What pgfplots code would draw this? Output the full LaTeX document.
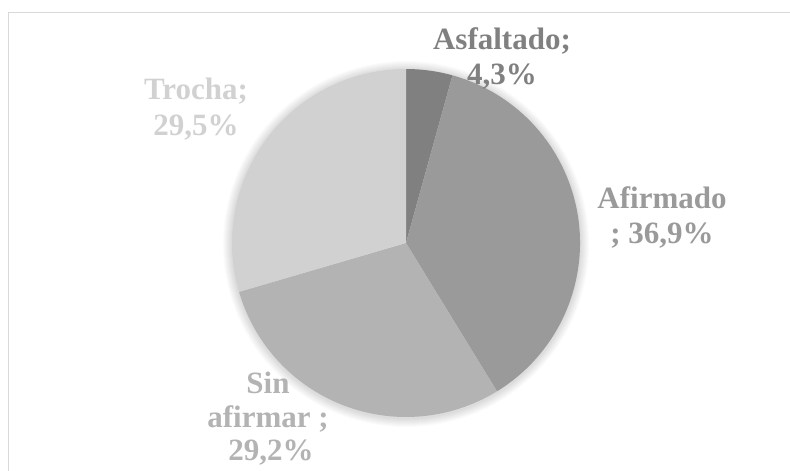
\documentclass[border=0pt]{standalone}
\usepackage{fontspec}
\setmainfont{Liberation Serif}
\usepackage{pgfplots}
\usepackage{pgfplotstable}
\pgfplotsset{compat=1.18}
\definecolor{cA}{HTML}{808080}
\definecolor{cB}{HTML}{9A9A9A}
\definecolor{cC}{HTML}{B3B3B3}
\definecolor{cD}{HTML}{D1D1D1}
\definecolor{frame}{HTML}{D9D9D9}

\pgfplotstableread[col sep=comma]{
label,value
Asfaltado,4.3
Afirmado,36.9
Sin afirmar,29.2
Trocha,29.5
}\piedata

\newcommand\labfont{\fontsize{31}{35}\selectfont\bfseries}

\begin{document}
\begin{tikzpicture}
\pgfplotstablegetelem{0}{value}\of\piedata \let\vA\pgfplotsretval
\pgfplotstablegetelem{1}{value}\of\piedata \let\vB\pgfplotsretval
\pgfplotstablegetelem{2}{value}\of\piedata \let\vC\pgfplotsretval
\pgfplotstablegetelem{3}{value}\of\piedata \let\vD\pgfplotsretval
\pgfmathsetmacro\tot{\vA+\vB+\vC+\vD}
\pgfmathsetmacro\aA{90}
\pgfmathsetmacro\aB{\aA-360*\vA/\tot}
\pgfmathsetmacro\aC{\aB-360*\vB/\tot}
\pgfmathsetmacro\aD{\aC-360*\vC/\tot}
\pgfmathsetmacro\aE{\aD-360*\vD/\tot}
\useasboundingbox (0,0) rectangle (790pt,471pt);
\clip (0,0) rectangle (790pt,471pt);
\begin{axis}[at={(0,0)}, anchor=south west, x=1pt, y=1pt,
  xmin=0, xmax=790, ymin=0, ymax=471, y dir=reverse,
  hide axis, clip=false]
% chart frame
\draw[frame, line width=1.5pt] (axis cs:8.5,520) -- (axis cs:8.5,12.5) -- (axis cs:830,12.5);
% soft shadow
\pgfplotsinvokeforeach{1,...,9}{
  \fill[black, opacity=0.016] (axis cs:406,244) circle[radius={(174+#1)*1pt}];
}
% slices
\fill[cA] (axis cs:406,243) -- ++(\aA:174pt) arc[start angle=\aA, end angle=\aB, radius=174pt] -- cycle;
\fill[cB] (axis cs:406,243) -- ++(\aB:174pt) arc[start angle=\aB, end angle=\aC, radius=174pt] -- cycle;
\fill[cC] (axis cs:406,243) -- ++(\aC:174pt) arc[start angle=\aC, end angle=\aD, radius=174pt] -- cycle;
\fill[cD] (axis cs:406,243) -- ++(\aD:174pt) arc[start angle=\aD, end angle=\aE, radius=174pt] -- cycle;
% labels
\node[anchor=base, text=cA, font=\labfont, inner sep=0pt] at (axis cs:502,49) {Asfaltado;};
\node[anchor=base, text=cA, font=\labfont, inner sep=0pt] at (axis cs:502,84) {4,3\%};
\node[anchor=base, text=cB, font=\labfont, inner sep=0pt] at (axis cs:662,208) {Afirmado};
\node[anchor=base, text=cB, font=\labfont, inner sep=0pt] at (axis cs:662,243) {; 36,9\%};
\node[anchor=base, text=cC, font=\labfont, inner sep=0pt] at (axis cs:268,393) {Sin};
\node[anchor=base, text=cC, font=\labfont, inner sep=0pt] at (axis cs:268,427) {afirmar ;};
\node[anchor=base, text=cC, font=\labfont, inner sep=0pt] at (axis cs:271,460) {29,2\%};
\node[anchor=base, text=cD, font=\labfont, inner sep=0pt] at (axis cs:196,99) {Trocha;};
\node[anchor=base, text=cD, font=\labfont, inner sep=0pt] at (axis cs:196,135) {29,5\%};
\end{axis}
\end{tikzpicture}
\end{document}
